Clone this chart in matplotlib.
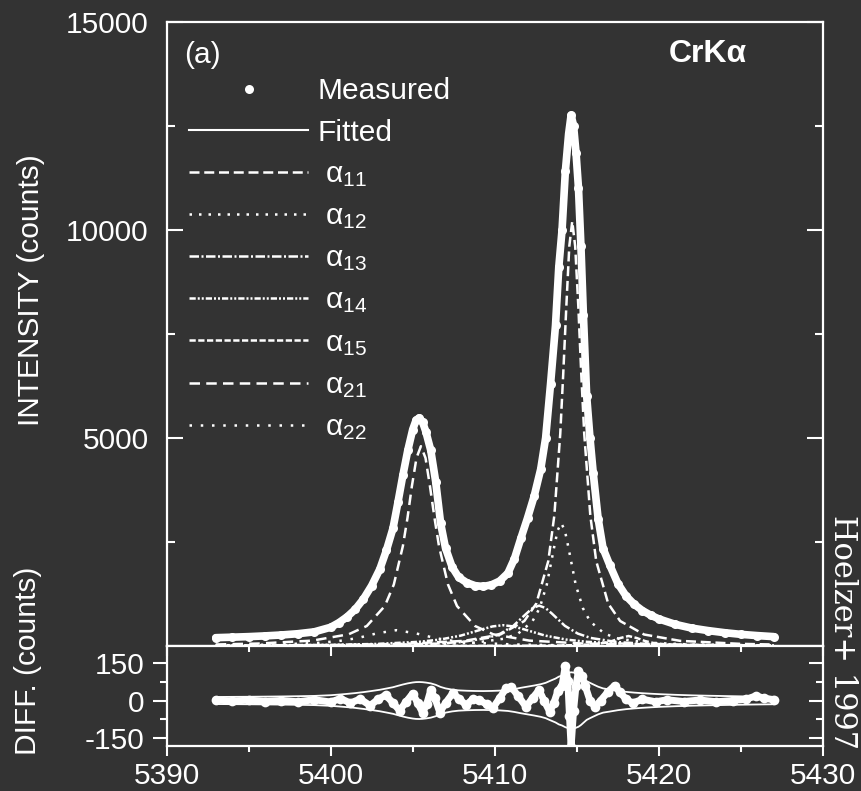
import matplotlib
matplotlib.use("Agg")
from matplotlib import pyplot as plt
from matplotlib.ticker import MultipleLocator, FixedLocator

plt.rcParams['font.family'] = ['Liberation Sans', 'DejaVu Sans']
plt.rcParams['mathtext.fontset'] = 'custom'
plt.rcParams['mathtext.rm'] = 'Liberation Sans'
plt.rcParams['mathtext.it'] = 'Liberation Sans'
plt.rcParams['mathtext.default'] = 'regular'
plt.rcParams['axes.unicode_minus'] = False

BG = '#333333'
FG = 'white'

# energy grid (eV) shared by measured / fitted / sigma envelope
energy = [5393, 5394, 5395, 5396, 5397, 5398, 5399, 5400,
          5400.5, 5401, 5401.5, 5402, 5402.5, 5403, 5403.4, 5403.8,
          5404.1, 5404.4, 5404.7, 5405.0, 5405.2, 5405.4, 5405.6, 5405.8,
          5406.1, 5406.4, 5406.7, 5407.0, 5407.4, 5407.8, 5408.3, 5408.8,
          5409.3, 5409.8, 5410.3, 5410.8, 5411.2, 5411.6, 5412.0, 5412.4,
          5412.8, 5413.1, 5413.4, 5413.7, 5413.9, 5414.1, 5414.3, 5414.5,
          5414.65, 5414.8, 5414.95, 5415.1, 5415.25, 5415.4, 5415.6, 5415.8,
          5416.0, 5416.3, 5416.6, 5417.0, 5417.5, 5418.0, 5418.5, 5419.0,
          5419.5, 5420, 5421, 5422, 5423, 5424, 5425, 5426, 5427]
measured = [200, 212, 225, 243, 265, 295, 340, 450,
            560, 700, 880, 1130, 1450, 1850, 2300, 2830,
            3450, 4100, 4700, 5200, 5420, 5480, 5380, 5150,
            4700, 3950, 2950, 2350, 1900, 1650, 1520, 1450,
            1430, 1470, 1560, 1750, 2100, 2600, 3080, 3600,
            4250, 5000, 6300, 7700, 9100, 10000, 11400, 12300,
            12750, 12500, 11850, 11000, 9600, 7950, 6000, 5000,
            4150, 3050, 2340, 1950, 1500, 1200, 1000, 850,
            740, 650, 520, 430, 370, 320, 280, 250, 225]
fitted = [198, 210, 224, 244, 266, 296, 342, 452,
          558, 702, 878, 1128, 1455, 1845, 2290, 2835,
          3445, 4110, 4690, 5190, 5415, 5470, 5390, 5140,
          4690, 3955, 2960, 2355, 1895, 1648, 1522, 1448,
          1432, 1475, 1555, 1740, 2095, 2605, 3075, 3590,
          4245, 5010, 6310, 7690, 9090, 9960, 11300, 12320,
          12780, 12550, 11820, 10930, 9560, 7960, 5990, 5005,
          4160, 3045, 2335, 1945, 1502, 1198, 1002, 848,
          742, 650, 521, 431, 371, 321, 279, 249, 224]
sigma = [14.1, 14.6, 15.0, 15.6, 16.3, 17.2, 18.4, 21.2,
         23.7, 26.5, 29.7, 33.6, 38.1, 43.0, 48.0, 53.2,
         58.7, 64.0, 68.6, 72.1, 73.6, 74.0, 73.3, 71.8,
         68.6, 62.8, 54.3, 48.5, 43.6, 40.6, 39.0, 38.1,
         37.8, 38.3, 39.5, 41.8, 45.8, 51.0, 55.5, 60.0,
         65.2, 70.7, 79.4, 87.7, 95.4, 100.0, 106.8, 110.9,
         112.9, 111.8, 108.9, 104.9, 98.0, 89.2, 77.5, 70.7,
         64.4, 55.2, 48.4, 44.2, 38.7, 34.6, 31.6, 29.2,
         27.2, 25.5, 22.8, 20.7, 19.2, 17.9, 16.7, 15.8, 15.0]

# fitted Lorentzian components, each on its own energy list
a11_x = [5393, 5400.12, 5404.5, 5408.15, 5410.34, 5411.8, 5412.53, 5413.26,
         5413.63, 5413.99, 5414.17, 5414.36, 5414.54, 5414.72, 5414.9, 5415.09,
         5415.27, 5415.45, 5415.82, 5416.18, 5416.91, 5417.64, 5419.1, 5421.29,
         5424.94, 5427]
a11_y = [11, 25, 52, 124, 276, 600, 1020, 2040,
         3140, 5100, 6530, 8160, 9600, 10200, 9600, 8160,
         6530, 5100, 3140, 2040, 1020, 600, 276, 124,
         52, 36]
a12_x = [5393, 5401.73, 5406.13, 5408.77, 5410.53, 5411.41, 5412.29, 5412.73,
         5413.17, 5413.61, 5413.83, 5414.05, 5414.27, 5414.49, 5414.93, 5415.37,
         5415.81, 5416.69, 5417.57, 5419.33, 5421.97, 5427]
a12_y = [5, 15, 36, 80, 173, 295, 590, 908,
         1475, 2360, 2776, 2950, 2776, 2360, 1475, 908,
         590, 295, 173, 80, 36, 14]
a13_x = [5393, 5398.57, 5403.28, 5406.42, 5407.99, 5409.56, 5410.35, 5411.13,
         5411.92, 5412.31, 5412.7, 5413.09, 5413.49, 5414.27, 5415.06, 5415.84,
         5417.41, 5418.98, 5422.12, 5427]
a13_y = [6, 12, 26, 57, 97, 194, 298, 485,
         776, 913, 970, 913, 776, 485, 298, 194,
         97, 57, 26, 12]
a14_x = [5393, 5395.08, 5400.22, 5402.79, 5405.36, 5406.65, 5407.93, 5409.22,
         5409.86, 5410.5, 5411.14, 5411.79, 5413.07, 5414.36, 5415.64, 5418.21,
         5420.78, 5425.92, 5427]
a14_y = [10, 14, 29, 50, 100, 154, 250, 400,
         470, 500, 470, 400, 250, 154, 100, 50,
         29, 14, 12]
a15_x = [5393, 5409.15, 5412.15, 5414.15, 5415.15, 5416.15, 5416.65, 5417.15,
         5417.65, 5418.15, 5418.65, 5419.15, 5419.65, 5420.15, 5421.15, 5422.15,
         5424.15, 5427]
a15_y = [0, 3, 7, 14, 24, 48, 74, 120,
         192, 240, 192, 120, 74, 48, 24, 14,
         7, 3]
a21_x = [5393, 5395.6, 5398.9, 5401.1, 5402.2, 5403.3, 5403.85, 5404.4,
         5404.68, 5404.95, 5405.23, 5405.5, 5405.78, 5406.05, 5406.33, 5406.6,
         5407.15, 5407.7, 5408.8, 5409.9, 5412.1, 5415.4, 5420.9, 5427]
a21_y = [37, 59, 130, 282, 480, 960, 1477, 2400,
         3072, 3840, 4517, 4800, 4517, 3840, 3072, 2400,
         1477, 960, 480, 282, 130, 59, 24, 13]
a22_x = [5393, 5394.52, 5396.89, 5399.26, 5400.45, 5401.63, 5402.82, 5404.0,
         5405.19, 5406.37, 5407.56, 5408.74, 5411.11, 5413.48, 5418.22, 5427]
a22_y = [17, 22, 38, 76, 117, 190, 304, 380,
         304, 190, 117, 76, 38, 22, 10, 4]

# residuals (measured - fitted)
diff_x = [5393, 5394, 5395, 5396, 5397, 5398, 5399, 5400, 5400.6, 5401.2,
          5401.8, 5402.4, 5402.9, 5403.35, 5403.8, 5404.2, 5404.6, 5405.0, 5405.3, 5405.6,
          5405.85, 5406.1, 5406.35, 5406.65, 5407.0, 5407.45, 5407.85, 5408.25, 5408.65, 5409.05,
          5409.5, 5409.9, 5410.3, 5410.7, 5411.0, 5411.4, 5411.9, 5412.3, 5412.7, 5413.0,
          5413.35, 5413.6, 5413.85, 5414.1, 5414.3, 5414.45, 5414.55, 5414.65, 5414.8, 5414.95,
          5415.1, 5415.3, 5415.5, 5415.8, 5416.1, 5416.45, 5416.9, 5417.3, 5417.6, 5418.0,
          5418.4, 5419.0, 5419.8, 5420.5, 5421.5, 5422.5, 5423.5, 5424.5, 5425.3, 5425.9,
          5426.4, 5427]
diff_y = [3, -3, 2, -4, 0, -5, 3, -6, 8, -10,
          6, -20, 5, 22, -10, -40, -5, 28, -10, -48,
          -15, 42, 10, -48, -10, 30, 5, -18, 5, 2,
          -15, -28, 10, 50, 55, 20, -25, 10, 42, 0,
          -45, -10, 40, 60, 140, 80, -60, -185, -40, 60,
          120, 100, 60, 0, -25, 0, 35, 60, 35, 5,
          -10, 5, -5, 3, -4, 2, -5, 0, 5, 18,
          10, 2]

components = [
    (a11_x, a11_y, r' $\alpha_{11}$', (0, (4.0, 1.9))),
    (a12_x, a12_y, r' $\alpha_{12}$', (0, (1.0, 2.8))),
    (a13_x, a13_y, r' $\alpha_{13}$', (0, (3.8, 1.0, 0.8, 1.0))),
    (a14_x, a14_y, r' $\alpha_{14}$', (0, (2.5, 0.8, 0.8, 0.8, 0.8, 0.8))),
    (a15_x, a15_y, r' $\alpha_{15}$', (0, (2.5, 1.0))),
    (a21_x, a21_y, r' $\alpha_{21}$', (0, (4.2, 2.5))),
    (a22_x, a22_y, r' $\alpha_{22}$', (0, (1.0, 3.5))),
]

FS = 21.5

fig = plt.figure(figsize=(8.61, 7.91), dpi=100, facecolor=BG)
ax1 = fig.add_axes([0.1934, 0.1833, 0.7625, 0.7895], facecolor=BG)
ax2 = fig.add_axes([0.1934, 0.0575, 0.7625, 0.1258], facecolor=BG)

# --- main panel
comp_lines = []
for xs, ys, lab, ls in components:
    ln, = ax1.plot(xs, ys, color=FG, lw=1.8, linestyle=ls, label=lab)
    comp_lines.append(ln)
ax1.plot(energy, measured, '-', color=FG, lw=5.5, solid_capstyle='round', zorder=3)
meas_pts, = ax1.plot(energy, measured, 'o', color=FG, ms=6.5, mew=0, zorder=4, label='Measured')
fit_line, = ax1.plot(energy, fitted, '-', color=FG, lw=1.5, zorder=5, label='Fitted')

ax1.set_xlim(5390, 5430)
ax1.set_ylim(0, 15000)
ax1.yaxis.set_major_locator(FixedLocator([5000, 10000, 15000]))
ax1.yaxis.set_minor_locator(FixedLocator([2500, 7500, 12500]))
ax1.tick_params(axis='y', which='both', direction='in', left=True, right=True,
                colors=FG, labelsize=FS, pad=13)
ax1.tick_params(axis='y', which='major', length=11.5, width=1.5)
ax1.tick_params(axis='y', which='minor', length=5.5, width=1.5)
ax1.tick_params(axis='x', which='both', bottom=False, top=False, labelbottom=False)
for sp in ax1.spines.values():
    sp.set_color(FG)
    sp.set_linewidth(1.6)

ax1.text(0.054, 0.946, '(a)', transform=ax1.transAxes, color=FG, fontsize=FS,
         ha='center', va='center')
ax1.text(0.825, 0.948, 'CrKα', transform=ax1.transAxes, color=FG, fontsize=23,
         fontweight='bold', ha='center', va='center')

handles = [meas_pts, fit_line] + comp_lines
leg = ax1.legend(handles=handles, loc='upper left', bbox_to_anchor=(0.034, 0.911),
                 frameon=False, fontsize=FS, handlelength=4.0, handletextpad=0.3,
                 labelspacing=0.45, borderpad=0, borderaxespad=0, numpoints=1)
for t in leg.get_texts():
    t.set_color(FG)

# --- difference panel
ax2.plot(energy, sigma, color=FG, lw=1.3)
ax2.plot(energy, [-s for s in sigma], color=FG, lw=1.3)
ax2.plot(diff_x, diff_y, '-', color=FG, lw=5.0, solid_capstyle='round')
ax2.plot(diff_x, diff_y, 'o', color=FG, ms=7, mew=0)

ax2.set_xlim(5390, 5430)
ax2.set_ylim(-180, 218)
ax2.xaxis.set_major_locator(MultipleLocator(10))
ax2.xaxis.set_minor_locator(MultipleLocator(5))
ax2.yaxis.set_major_locator(FixedLocator([-150, 0, 150]))
ax2.yaxis.set_minor_locator(FixedLocator([-75, 75]))
ax2.tick_params(axis='both', which='both', colors=FG, labelsize=FS, width=1.5)
ax2.tick_params(axis='y', which='both', left=True, right=True, direction='out', pad=6)
ax2.tick_params(axis='y', which='major', length=10)
ax2.tick_params(axis='y', which='minor', length=5)
ax2.tick_params(axis='x', which='both', bottom=True, top=True, direction='out', pad=5)
ax2.tick_params(axis='x', which='major', length=7)
ax2.tick_params(axis='x', which='minor', length=4)
for sp in ax2.spines.values():
    sp.set_color(FG)
    sp.set_linewidth(1.6)
# right and top ticks point inward
for tk in ax2.yaxis.get_major_ticks() + ax2.yaxis.get_minor_ticks():
    tk.tick2line.set_marker(matplotlib.lines.TICKLEFT)
for tk in ax2.xaxis.get_major_ticks() + ax2.xaxis.get_minor_ticks():
    tk.tick2line.set_marker(matplotlib.lines.TICKDOWN)

fig.text(0.0355, 0.6334, 'INTENSITY (counts)', rotation=90, color=FG, fontsize=FS,
         ha='center', va='center')
fig.text(0.0325, 0.1644, 'DIFF. (counts)', rotation=90, color=FG, fontsize=FS,
         ha='center', va='center')
fig.text(0.978, 0.2005, 'Hoelzer+ 1997', rotation=-90, color=FG, fontsize=22,
         family='DejaVu Serif', ha='center', va='center')

fig.savefig('out.png', dpi=100, facecolor=BG)
